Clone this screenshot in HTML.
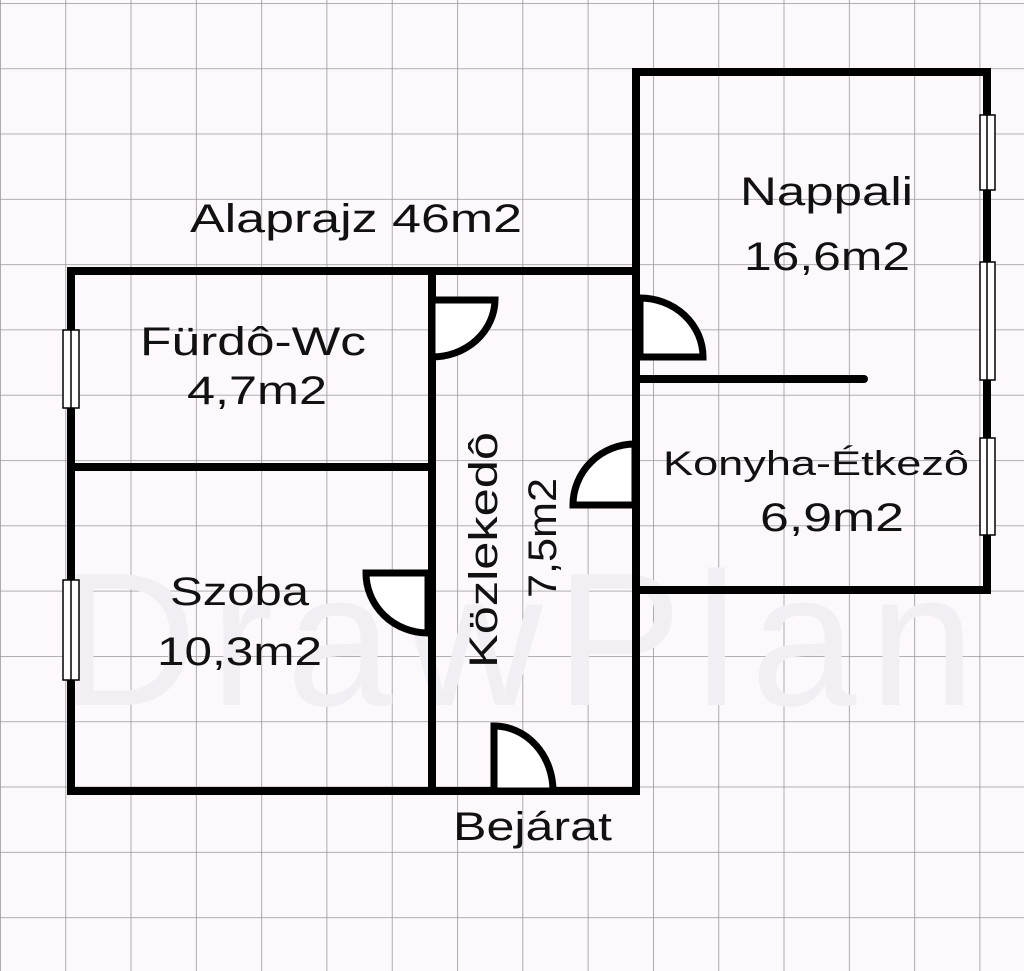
<!DOCTYPE html>
<html><head><meta charset="utf-8"><style>
html,body{margin:0;padding:0;background:#fcf8fc;}
svg{display:block}
text{font-family:"Liberation Sans",sans-serif;fill:#111;}
</style></head><body>
<svg width="1024" height="971" viewBox="0 0 1024 971" xmlns="http://www.w3.org/2000/svg">
<defs>
<pattern id="g" x="0" y="3" width="65.3" height="65.3" patternUnits="userSpaceOnUse">
<path d="M0 0H65.3M0 0V65.3" stroke="#9a979c" stroke-width="1.6" fill="none"/>
</pattern>
</defs>
<rect width="1024" height="971" fill="#fcf8fc"/>
<rect width="1024" height="971" fill="url(#g)"/>
<text x="60" y="705" font-size="190" style="fill:#f1eff4" textLength="915">DrawPlan</text>
<g stroke="#000" stroke-width="8" fill="none" stroke-linecap="square">
<path d="M71 271H636V791H71Z"/>
<path d="M636 271V72H987V590H636"/>
<path d="M432 271V791"/>
<path d="M71 467H432"/>
<path d="M640 379H864" stroke-linecap="round"/>
</g>
<g stroke="#000" stroke-width="1.5" fill="#fff">
<rect x="63" y="330" width="16" height="78"/><line x1="71" y1="330" x2="71" y2="408"/>
<rect x="63" y="580" width="16" height="100"/><line x1="71" y1="580" x2="71" y2="680"/>
<rect x="980" y="115" width="15" height="75"/><line x1="987" y1="115" x2="987" y2="190"/>
<rect x="980" y="262" width="15" height="118"/><line x1="987" y1="262" x2="987" y2="380"/>
<rect x="980" y="438" width="15" height="97"/><line x1="987" y1="438" x2="987" y2="535"/>
</g>
<g stroke="#000" stroke-width="7" fill="#fff">
<path d="M432 300H495A63 58 0 0 1 432 357Z"/>
<path d="M640 298A63 59 0 0 1 703 357H640Z"/>
<path d="M635 444V505H573A62 61 0 0 1 635 444Z"/>
<path d="M428 573H366A62 60 0 0 0 428 633Z"/>
<path d="M494 791V726A59 65 0 0 1 553 791Z"/>
</g>
<g font-size="40" lengthAdjust="spacingAndGlyphs">
<text x="190" y="232" textLength="332" lengthAdjust="spacingAndGlyphs">Alaprajz 46m2</text>
<text x="740" y="205" textLength="173" lengthAdjust="spacingAndGlyphs">Nappali</text>
<text x="744" y="270" textLength="166" lengthAdjust="spacingAndGlyphs">16,6m2</text>
<text x="140" y="355" textLength="226" lengthAdjust="spacingAndGlyphs">Fürdô-Wc</text>
<text x="187" y="404" textLength="140" lengthAdjust="spacingAndGlyphs">4,7m2</text>
<text x="663" y="475" font-size="34" textLength="306" lengthAdjust="spacingAndGlyphs">Konyha-Étkezô</text>
<text x="760" y="531" textLength="144" lengthAdjust="spacingAndGlyphs">6,9m2</text>
<text x="170" y="605" textLength="139" lengthAdjust="spacingAndGlyphs">Szoba</text>
<text x="157" y="665" textLength="165" lengthAdjust="spacingAndGlyphs">10,3m2</text>
<text x="453" y="840" textLength="159" lengthAdjust="spacingAndGlyphs">Bejárat</text>
<text transform="translate(497,668) rotate(-90)" textLength="236" lengthAdjust="spacingAndGlyphs">Közlekedô</text>
<text transform="translate(556,598) rotate(-90)" textLength="120" lengthAdjust="spacingAndGlyphs">7,5m2</text>
</g>
</svg>
</body></html>
